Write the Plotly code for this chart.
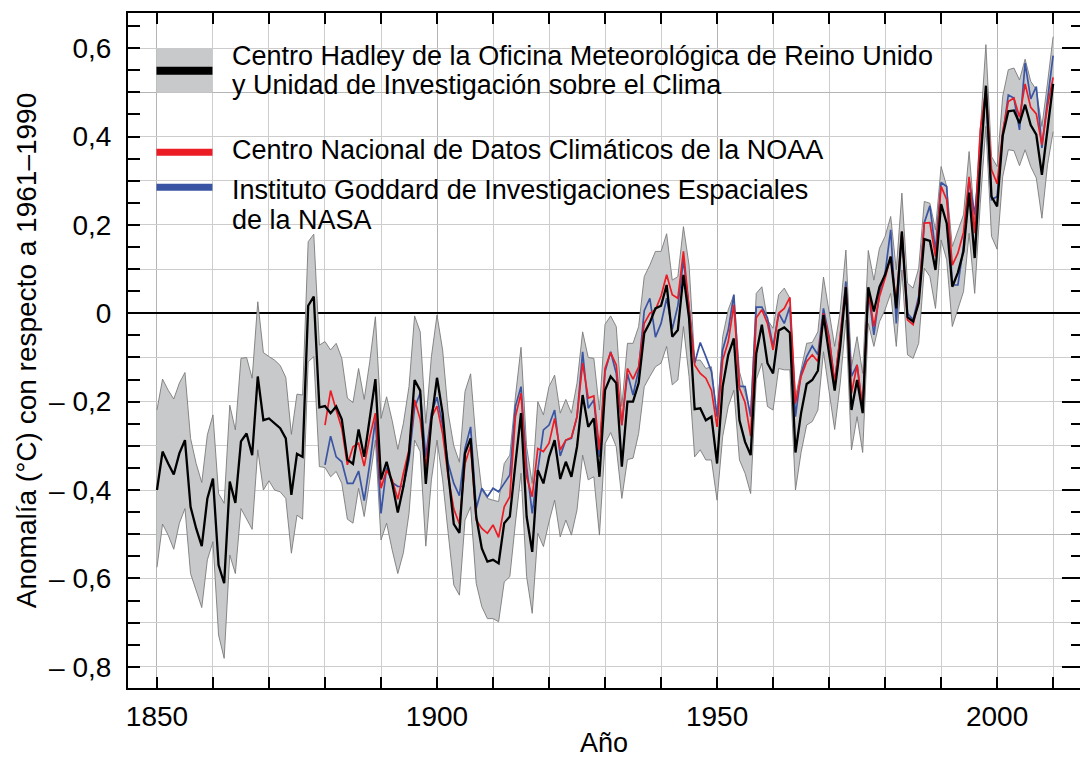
import plotly.graph_objects as go

# ---------------- data ----------------
years_hadcrut = list(range(1850, 2011))
hadcrut = [
    -0.400, -0.313, -0.340, -0.365, -0.317, -0.287, -0.438, -0.487, -0.527, -0.419,
    -0.374, -0.570, -0.611, -0.381, -0.429, -0.290, -0.272, -0.321, -0.143, -0.242,
    -0.238, -0.249, -0.260, -0.283, -0.411, -0.318, -0.325, 0.017, 0.038, -0.213,
    -0.210, -0.226, -0.211, -0.240, -0.331, -0.341, -0.263, -0.325, -0.242, -0.149,
    -0.376, -0.336, -0.385, -0.451, -0.392, -0.317, -0.151, -0.175, -0.386, -0.242,
    -0.146, -0.226, -0.362, -0.477, -0.497, -0.317, -0.283, -0.460, -0.532, -0.562,
    -0.558, -0.566, -0.475, -0.460, -0.340, -0.226, -0.460, -0.540, -0.355, -0.385,
    -0.325, -0.287, -0.375, -0.336, -0.370, -0.302, -0.185, -0.257, -0.238, -0.370,
    -0.174, -0.143, -0.158, -0.347, -0.200, -0.200, -0.158, -0.045, -0.021, 0.011,
    0.017, 0.064, -0.053, -0.038, 0.087, -0.011, -0.217, -0.215, -0.242, -0.234,
    -0.340, -0.166, -0.094, -0.057, -0.242, -0.291, -0.321, -0.091, -0.026, -0.113,
    -0.136, -0.039, -0.032, -0.044, -0.315, -0.226, -0.160, -0.151, -0.130, -0.004,
    -0.091, -0.175, -0.075, 0.059, -0.219, -0.151, -0.226, 0.059, 0.004, 0.060,
    0.087, 0.128, 0.011, 0.185, -0.009, -0.019, 0.023, 0.168, 0.164, 0.098,
    0.247, 0.204, 0.060, 0.092, 0.140, 0.273, 0.125, 0.336, 0.515, 0.264,
    0.242, 0.402, 0.457, 0.459, 0.430, 0.472, 0.426, 0.404, 0.313, 0.419,
    0.519,
]
hadcrut_upper = [
    -0.219, -0.149, -0.174, -0.194, -0.158, -0.134, -0.283, -0.340, -0.383, -0.275,
    -0.230, -0.408, -0.430, -0.208, -0.264, -0.102, -0.100, -0.147, 0.026, -0.089,
    -0.098, -0.106, -0.118, -0.145, -0.274, -0.183, -0.185, 0.162, 0.179, -0.072,
    -0.064, -0.083, -0.068, -0.102, -0.192, -0.202, -0.125, -0.195, -0.109, -0.008,
    -0.238, -0.189, -0.243, -0.308, -0.249, -0.166, -0.006, -0.042, -0.249, -0.098,
    -0.004, -0.083, -0.226, -0.300, -0.337, -0.177, -0.137, -0.294, -0.400, -0.419,
    -0.423, -0.426, -0.340, -0.321, -0.189, -0.077, -0.302, -0.385, -0.200, -0.230,
    -0.166, -0.140, -0.226, -0.195, -0.226, -0.158, -0.042, -0.100, -0.102, -0.219,
    -0.025, -0.006, -0.030, -0.211, -0.068, -0.068, -0.030, 0.083, 0.109, 0.140,
    0.140, 0.180, 0.075, 0.083, 0.196, 0.109, -0.106, -0.106, -0.125, -0.121,
    -0.234, -0.053, 0.008, 0.042, -0.132, -0.177, -0.226, 0.045, 0.060, -0.015,
    -0.034, 0.042, 0.057, 0.034, -0.189, -0.128, -0.068, -0.066, -0.042, 0.082,
    0.004, -0.075, 0.006, 0.143, -0.121, -0.053, -0.136, 0.142, 0.075, 0.147,
    0.174, 0.219, 0.098, 0.272, 0.068, 0.057, 0.102, 0.253, 0.249, 0.189,
    0.332, 0.287, 0.151, 0.189, 0.223, 0.366, 0.211, 0.415, 0.608, 0.355,
    0.332, 0.491, 0.551, 0.555, 0.528, 0.575, 0.525, 0.506, 0.423, 0.521,
    0.626,
]
hadcrut_lower = [
    -0.575, -0.477, -0.502, -0.534, -0.475, -0.442, -0.589, -0.630, -0.666, -0.558,
    -0.517, -0.728, -0.781, -0.547, -0.589, -0.442, -0.464, -0.489, -0.309, -0.400,
    -0.379, -0.400, -0.404, -0.419, -0.543, -0.457, -0.466, -0.110, -0.098, -0.347,
    -0.349, -0.370, -0.358, -0.385, -0.466, -0.475, -0.396, -0.460, -0.377, -0.287,
    -0.513, -0.475, -0.536, -0.589, -0.542, -0.453, -0.287, -0.313, -0.527, -0.377,
    -0.287, -0.377, -0.498, -0.615, -0.638, -0.468, -0.438, -0.611, -0.664, -0.691,
    -0.691, -0.698, -0.608, -0.596, -0.475, -0.362, -0.596, -0.679, -0.498, -0.528,
    -0.472, -0.423, -0.506, -0.468, -0.502, -0.445, -0.321, -0.377, -0.370, -0.502,
    -0.295, -0.270, -0.302, -0.419, -0.331, -0.328, -0.272, -0.166, -0.143, -0.121,
    -0.113, -0.075, -0.162, -0.151, -0.030, -0.143, -0.325, -0.309, -0.332, -0.332,
    -0.423, -0.279, -0.211, -0.174, -0.332, -0.362, -0.408, -0.150, -0.113, -0.211,
    -0.219, -0.125, -0.128, -0.128, -0.400, -0.315, -0.253, -0.245, -0.219, -0.087,
    -0.177, -0.263, -0.158, -0.015, -0.309, -0.234, -0.315, -0.023, -0.075, -0.019,
    0.008, 0.045, -0.075, 0.098, -0.094, -0.102, -0.068, 0.102, 0.083, 0.011,
    0.166, 0.121, -0.030, 0.008, 0.049, 0.181, 0.045, 0.249, 0.423, 0.174,
    0.145, 0.309, 0.370, 0.368, 0.334, 0.370, 0.332, 0.306, 0.215, 0.336,
    0.411,
]

years_noaa_nasa = list(range(1880, 2011))
noaa = [
    -0.253, -0.175, -0.219, -0.260, -0.343, -0.302, -0.294, -0.346, -0.279, -0.226,
    -0.396, -0.355, -0.377, -0.421, -0.362, -0.309, -0.196, -0.240, -0.347, -0.236,
    -0.210, -0.272, -0.370, -0.443, -0.477, -0.340, -0.300, -0.468, -0.487, -0.498,
    -0.479, -0.507, -0.438, -0.415, -0.234, -0.181, -0.370, -0.415, -0.306, -0.313,
    -0.294, -0.238, -0.309, -0.287, -0.281, -0.234, -0.113, -0.192, -0.187, -0.309,
    -0.125, -0.089, -0.117, -0.253, -0.125, -0.149, -0.121, -0.023, 0.000, 0.008,
    0.039, 0.087, 0.042, 0.034, 0.140, 0.015, -0.117, -0.136, -0.147, -0.174,
    -0.257, -0.106, -0.064, 0.019, -0.170, -0.202, -0.278, -0.010, 0.008, -0.023,
    -0.083, 0.000, 0.011, 0.036, -0.204, -0.143, -0.109, -0.094, -0.109, 0.000,
    -0.057, -0.158, -0.053, 0.060, -0.181, -0.117, -0.215, 0.053, -0.030, 0.038,
    0.079, 0.128, 0.023, 0.185, -0.015, -0.026, 0.030, 0.204, 0.205, 0.128,
    0.287, 0.257, 0.109, 0.136, 0.183, 0.309, 0.181, 0.415, 0.506, 0.325,
    0.293, 0.411, 0.479, 0.487, 0.444, 0.519, 0.466, 0.451, 0.381, 0.469,
    0.534,
]
nasa = [
    -0.343, -0.278, -0.325, -0.336, -0.385, -0.385, -0.357, -0.424, -0.340, -0.240,
    -0.453, -0.349, -0.383, -0.392, -0.392, -0.332, -0.213, -0.181, -0.325, -0.226,
    -0.190, -0.253, -0.340, -0.385, -0.413, -0.306, -0.257, -0.442, -0.396, -0.415,
    -0.396, -0.404, -0.385, -0.366, -0.211, -0.166, -0.347, -0.453, -0.355, -0.264,
    -0.253, -0.219, -0.323, -0.287, -0.283, -0.234, -0.087, -0.215, -0.196, -0.325,
    -0.132, -0.087, -0.136, -0.253, -0.136, -0.185, -0.128, 0.006, 0.034, -0.054,
    -0.023, 0.034, -0.036, 0.017, 0.121, 0.014, -0.113, -0.066, -0.098, -0.132,
    -0.234, -0.083, -0.038, 0.042, -0.165, -0.166, -0.234, 0.014, 0.014, -0.011,
    -0.075, 0.000, -0.023, 0.015, -0.234, -0.136, -0.098, -0.074, -0.094, 0.011,
    -0.053, -0.158, -0.053, 0.072, -0.143, -0.117, -0.220, 0.053, -0.049, 0.045,
    0.091, 0.189, -0.023, 0.185, 0.000, -0.015, 0.038, 0.205, 0.243, 0.140,
    0.296, 0.287, 0.064, 0.064, 0.151, 0.302, 0.223, 0.358, 0.502, 0.257,
    0.264, 0.402, 0.494, 0.487, 0.415, 0.566, 0.485, 0.513, 0.374, 0.483,
    0.583,
]

x_tick_years = [1850, 1900, 1950, 2000]
y_tick_values = [-0.8, -0.7, -0.6, -0.5, -0.4, -0.3, -0.2, -0.1, 0.0, 0.1, 0.2, 0.3, 0.4, 0.5, 0.6]
y_tick_labels = ["\u2013 0,8", "", "\u2013 0,6", "", "\u2013 0,4", "", "\u2013 0,2", "",
                 "0", "", "0,2", "", "0,4", "", "0,6"]
y_right_major = [-0.8, -0.6, -0.4, -0.2, 0.0, 0.2, 0.4, 0.6]
y_dark_grid = [-0.5, 0.5]

legend_labels = [
    "Centro Hadley de la Oficina Meteorológica de Reino Unido",
    "y Unidad de Investigación sobre el Clima",
    "Centro Nacional de Datos Climáticos de la NOAA",
    "Instituto Goddard de Investigaciones Espaciales",
    "de la NASA",
]

# ---------------- styling ----------------
FONT = "Liberation Sans, Arial, Helvetica, sans-serif"
BAND_FILL = "#c8c9cb"
BAND_EDGE = "#7a7a7a"
RED = "#ec1c24"
BLUE = "#3a54a4"
GRID = "#cdcdcd"
GRID_DARK = "#b4b4b4"

PAGE_OFFSET = 8          # default <body> margin of the html page
W, H = 1080, 750
L, R, T, B = 119.5, 8, 5, 70
PW, PH = W - L - R, H - T - B


def px(xp):
    """page pixel x -> paper fraction"""
    return (xp - PAGE_OFFSET - L) / PW


def py(yp):
    """page pixel y -> paper fraction"""
    return (H - B - (yp - PAGE_OFFSET)) / PH


X_RANGE = [1844.83, 2014.8]
Y_RANGE = [-0.848, 0.6795]

fig = go.Figure()

# uncertainty band
fig.add_trace(go.Scatter(x=years_hadcrut, y=hadcrut_lower, mode="lines",
                         line=dict(color=BAND_EDGE, width=0.9), hoverinfo="skip",
                         showlegend=False))
fig.add_trace(go.Scatter(x=years_hadcrut, y=hadcrut_upper, mode="lines",
                         line=dict(color=BAND_EDGE, width=0.9), fill="tonexty",
                         fillcolor=BAND_FILL, hoverinfo="skip", showlegend=False))
# NASA, NOAA, HadCRUT
fig.add_trace(go.Scatter(x=years_noaa_nasa, y=nasa, mode="lines",
                         line=dict(color=BLUE, width=1.7), showlegend=False))
fig.add_trace(go.Scatter(x=years_noaa_nasa, y=noaa, mode="lines",
                         line=dict(color=RED, width=1.7), showlegend=False))
fig.add_trace(go.Scatter(x=years_hadcrut, y=hadcrut, mode="lines",
                         line=dict(color="black", width=2.3), showlegend=False))

# helper invisible traces so the overlay axes exist
fig.add_trace(go.Scatter(x=[years_hadcrut[0]], y=[hadcrut[0]], yaxis="y2", mode="markers",
                         marker=dict(opacity=0), hoverinfo="skip", showlegend=False))
fig.add_trace(go.Scatter(x=[years_hadcrut[0]], y=[hadcrut[0]], yaxis="y3", mode="markers",
                         marker=dict(opacity=0), hoverinfo="skip", showlegend=False))

fig.update_layout(
    width=W, height=H,
    margin=dict(l=L, r=R, t=T, b=B, autoexpand=False),
    paper_bgcolor="white", plot_bgcolor="white",
    font=dict(family=FONT, size=28, color="black"),
    xaxis=dict(
        range=X_RANGE, tickvals=x_tick_years, ticks="inside", ticklen=11, tickwidth=1.5,
        tickcolor="black", showline=True, linecolor="black", linewidth=2, mirror="ticks",
        showgrid=True, gridcolor=GRID_DARK, gridwidth=1.3, zeroline=False,
        tickfont=dict(size=28), ticklabelstandoff=2, automargin=False,
        minor=dict(dtick=10, tick0=1850, ticks="inside", ticklen=11, tickwidth=1.5,
                   tickcolor="black", showgrid=True, gridcolor=GRID, gridwidth=1.2),
        title=dict(text="Año", font=dict(size=27), standoff=8),
    ),
    yaxis=dict(
        range=Y_RANGE, tickvals=y_tick_values, ticktext=y_tick_labels, ticks="inside",
        ticklen=12, tickwidth=1.5, tickcolor="black", showline=True, linecolor="black",
        linewidth=2, showgrid=True, gridcolor=GRID, gridwidth=1.2,
        zeroline=True, zerolinecolor="black", zerolinewidth=1.6,
        tickfont=dict(size=28), ticklabelstandoff=9, automargin=False,
        minor=dict(dtick=0.05, tick0=0, ticks="inside", ticklen=12, tickwidth=1.5,
                   tickcolor="black", showgrid=False),
        title=dict(text="Anomalía (°C) con respecto a 1961–1990", font=dict(size=28),
                   standoff=4),
    ),
    yaxis2=dict(
        range=Y_RANGE, overlaying="y", side="right", anchor="x", tickvals=y_right_major,
        ticks="inside", ticklen=18, tickwidth=1.5, tickcolor="black", showticklabels=False,
        showline=True, linecolor="black", linewidth=2, showgrid=False, zeroline=False,
        automargin=False,
        minor=dict(dtick=0.05, tick0=0, ticks="inside", ticklen=9, tickwidth=1.5,
                   tickcolor="black", showgrid=False),
    ),
    yaxis3=dict(
        range=Y_RANGE, overlaying="y", side="left", anchor="x", tickvals=y_dark_grid,
        ticks="", showticklabels=False, showline=False, showgrid=True, automargin=False,
        gridcolor=GRID_DARK, gridwidth=1.3, zeroline=False,
    ),
)

# ---------------- legend (drawn manually) ----------------
sw_x0, sw_x1 = px(156), px(212)
fig.add_shape(type="rect", xref="paper", yref="paper", x0=sw_x0, x1=sw_x1,
              y0=py(92.7), y1=py(48.3), fillcolor=BAND_FILL, line=dict(width=0))
fig.add_shape(type="line", xref="paper", yref="paper", x0=sw_x0, x1=sw_x1,
              y0=py(70.7), y1=py(70.7), line=dict(color="black", width=8))
fig.add_shape(type="line", xref="paper", yref="paper", x0=sw_x0, x1=sw_x1,
              y0=py(152.3), y1=py(152.3), line=dict(color=RED, width=7))
fig.add_shape(type="line", xref="paper", yref="paper", x0=sw_x0, x1=sw_x1,
              y0=py(187.3), y1=py(187.3), line=dict(color=BLUE, width=7))

text_rows = [55.7, 85.0, 150.0, 190.3, 220.0]
for label, row in zip(legend_labels, text_rows):
    fig.add_annotation(x=px(229.5), y=py(row), xref="paper", yref="paper",
                       text=label, showarrow=False, xanchor="left", yanchor="middle",
                       font=dict(size=27, family=FONT, color="black"))

fig.write_html("out.html")
